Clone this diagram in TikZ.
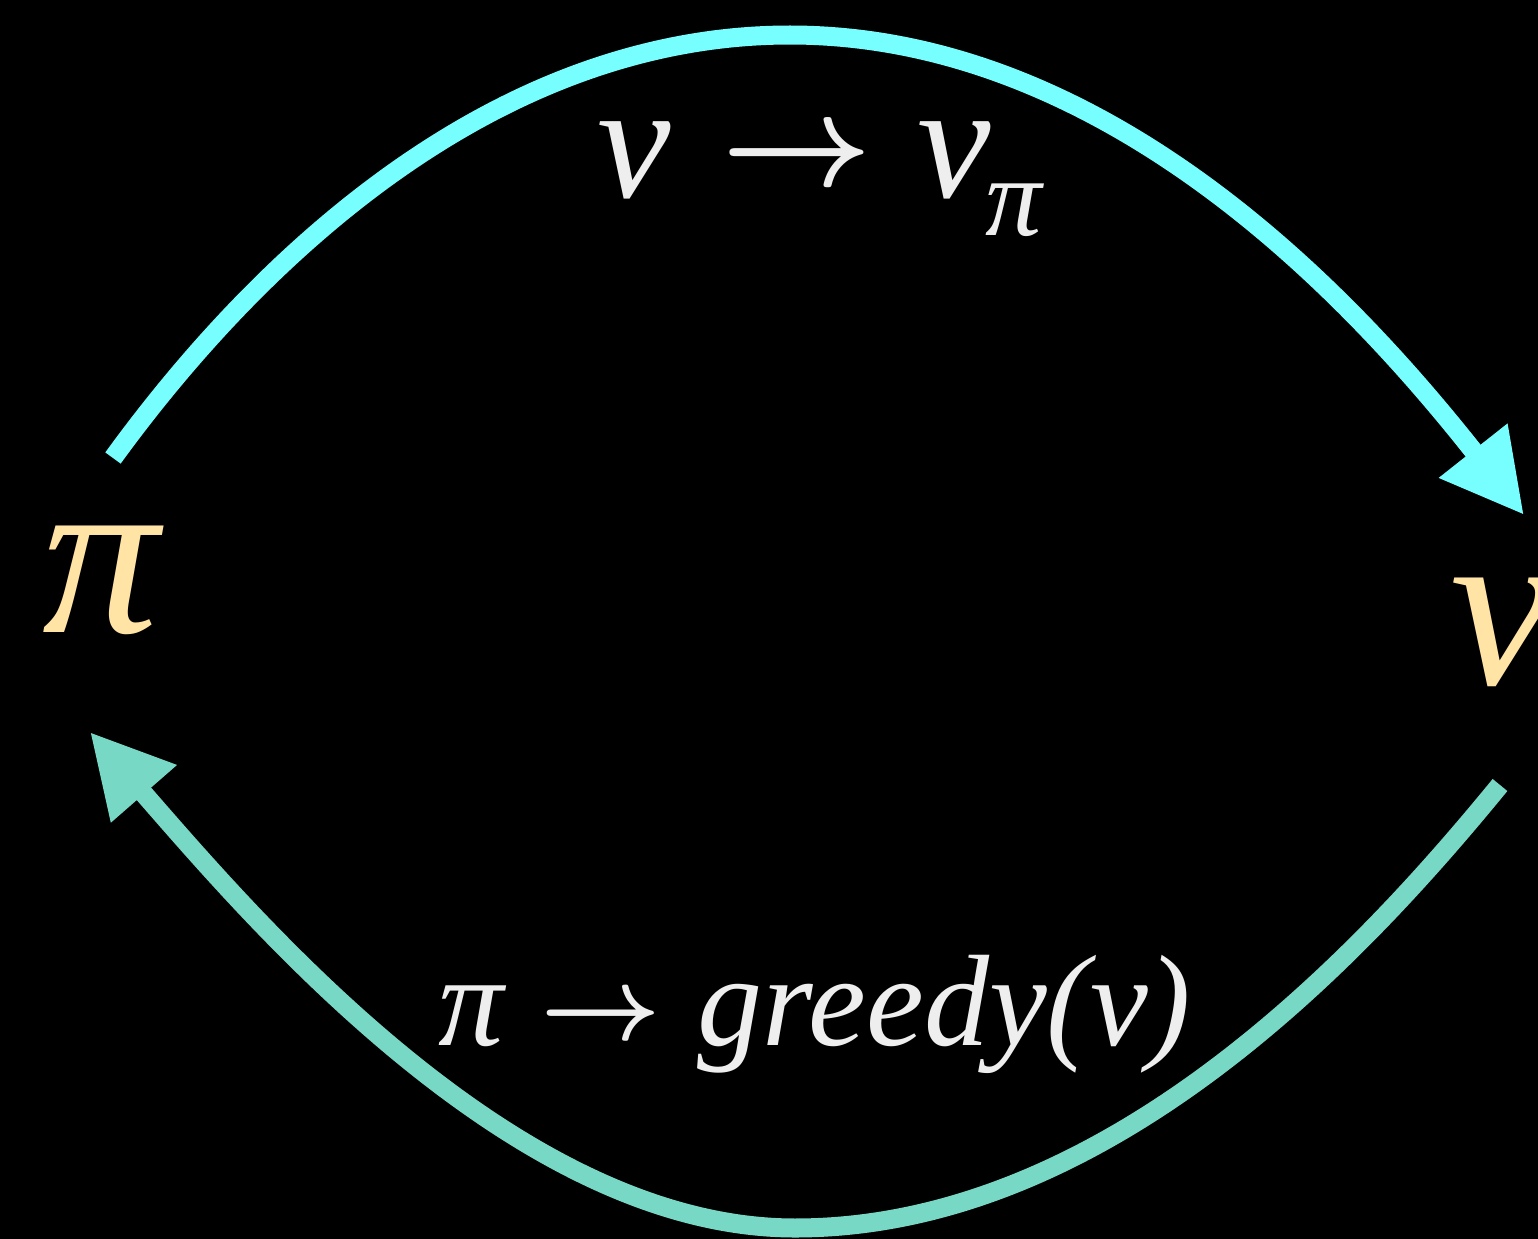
\documentclass[tikz,border=0pt]{standalone}
\usepackage{fontspec}
\usepackage{graphicx}
\setmainfont{Liberation Serif}
\usetikzlibrary{arrows.meta}
\definecolor{CycleCyan}{HTML}{77FFFF}
\definecolor{CycleTeal}{HTML}{77D8C5}
\definecolor{SymGold}{HTML}{FFE4A6}
\definecolor{LabelGrey}{HTML}{EEEEEE}

\begin{document}
\begin{tikzpicture}[x=0.01cm, y=-0.01cm, >={Triangle[length=0.82cm, width=0.82cm]},
        symbol/.style={text=SymGold, inner sep=0pt, anchor=base west, font=\fontsize{66}{70}\selectfont\itshape},
        steplabel/.style={text=LabelGrey, inner sep=0pt, anchor=base west},
        cycle/.style={->, line width=0.19cm}]

        \useasboundingbox (0,0) rectangle (1538,1239);
        \clip (0,0) rectangle (1538,1239);
        \fill[black] (0,0) rectangle (1538,1239);

        \node[symbol] (pi) at (42,632) {π};
        \node[symbol] (v) at (1450,684) {v};

        \node[steplabel, font=\fontsize{47}{50}\selectfont\itshape] (eval) at (597,197)
            {v\hspace{0.5cm}\raisebox{0.12cm}{\scalebox{1.5}{\fontsize{24.88}{28}\selectfont\boldmath$\rightarrow$}}\hspace{0.45cm}v\hspace{-0.05cm}\raisebox{-0.38cm}{\fontsize{32}{34}\selectfont π}};
        \node[steplabel, font=\fontsize{37}{40}\selectfont\itshape] (improve) at (438,1045)
            {π\hspace{0.37cm}\raisebox{0.06cm}{\scalebox{1.2}{\fontsize{24.88}{28}\selectfont\boldmath$\rightarrow$}}\hspace{0.36cm}greedy(v)};

        \coordinate (pi-out) at (113,458);
        \coordinate (top) at (790,35);
        \coordinate (v-in) at (1524,515);
        \coordinate (v-out) at (1500,785);
        \coordinate (bottom) at (795,1228);
        \coordinate (pi-in) at (90,732);

        \draw[cycle, CycleCyan] (pi-out) .. controls (219,312) and (460,35) .. (top)
            .. controls (1120,35) and (1369,319) .. (v-in);
        \draw[cycle, CycleTeal] (v-out) .. controls (1373,940) and (1115,1228) .. (bottom)
            .. controls (515,1228) and (254,920) .. (pi-in);
    \end{tikzpicture}
\end{document}
